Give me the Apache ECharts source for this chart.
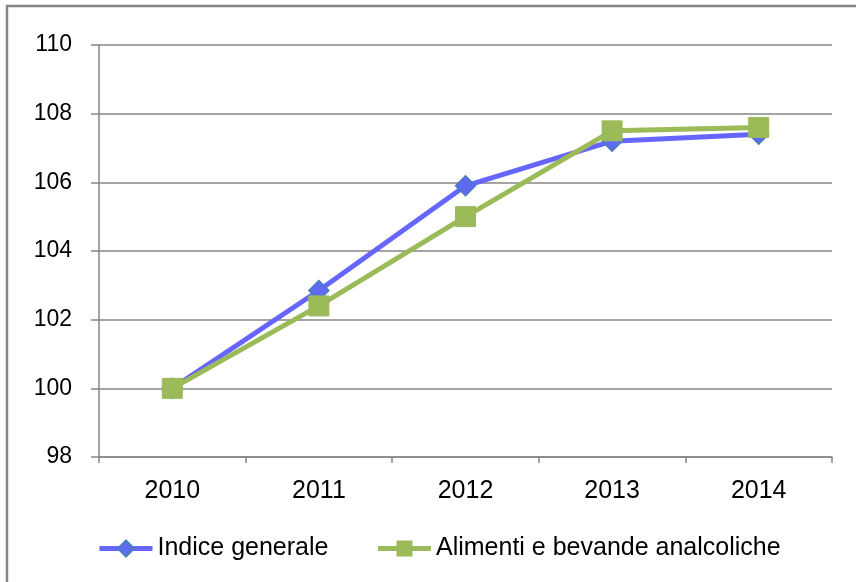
<!DOCTYPE html>
<html>
<head>
<meta charset="utf-8">
<script src="https://cdn.jsdelivr.net/npm/echarts@6/dist/echarts.min.js"></script>
<style>
  html, body { margin: 0; padding: 0; background: #fff; }
  #chart { width: 856px; height: 582px; }
</style>
</head>
<body>
<div id="chart"></div>
<script>
// dati
var years = ["2010", "2011", "2012", "2013", "2014"];
var indiceGenerale = [100, 102.85, 105.9, 107.2, 107.4];
var alimentiBevande = [100, 102.4, 105.0, 107.5, 107.6];
var yTicks = [98, 100, 102, 104, 106, 108, 110];

var myChart = echarts.init(document.getElementById("chart"));

var axisGray = "#868686";
var font = "Liberation Sans";

myChart.setOption({
  animation: false,
  graphic: [
    {
      type: "rect",
      shape: { x: 7, y: 6, width: 900, height: 700 },
      style: { fill: "none", stroke: axisGray, lineWidth: 2.5 },
      silent: true,
    },
  ],
  grid: {
    left: 99,
    right: 24,
    top: 45,
    bottom: 125,
  },
  legend: {
    left: 97,
    top: 536,
    padding: 0,
    itemWidth: 53,
    itemHeight: 20,
    itemGap: 47,
    lineStyle: { width: 5 },
    textStyle: { fontFamily: font, fontSize: 25, color: "#000" },
    data: ["Indice generale", "Alimenti e bevande analcoliche"],
  },
  xAxis: {
    type: "category",
    data: years,
    boundaryGap: true,
    axisLine: { lineStyle: { color: axisGray, width: 1.5 } },
    axisTick: { show: true, length: 6, lineStyle: { color: axisGray, width: 1.5 } },
    axisLabel: { fontFamily: font, fontSize: 25, color: "#000", margin: 22 },
  },
  yAxis: {
    type: "value",
    min: yTicks[0],
    max: yTicks[yTicks.length - 1],
    interval: 2,
    axisLine: { show: true, lineStyle: { color: axisGray, width: 1.5 } },
    axisTick: { show: true, length: 8, lineStyle: { color: axisGray, width: 1.5 } },
    splitLine: { show: true, lineStyle: { color: axisGray, width: 1.5 } },
    axisLabel: { fontFamily: font, fontSize: 23, color: "#000", margin: 27 },
  },
  series: [
    {
      name: "Indice generale",
      type: "line",
      data: indiceGenerale,
      symbol: "diamond",
      symbolSize: 20,
      lineStyle: { color: "#6666FF", width: 5 },
      itemStyle: { color: "#5F6AF2", borderColor: "#4A7EBB", borderWidth: 1.5 },
    },
    {
      name: "Alimenti e bevande analcoliche",
      type: "line",
      data: alimentiBevande,
      symbol: "rect",
      symbolSize: 20,
      lineStyle: { color: "#9BBB59", width: 5 },
      itemStyle: { color: "#9BBB59", borderColor: "#9BBB59" },
    },
  ],
});
</script>
</body>
</html>
